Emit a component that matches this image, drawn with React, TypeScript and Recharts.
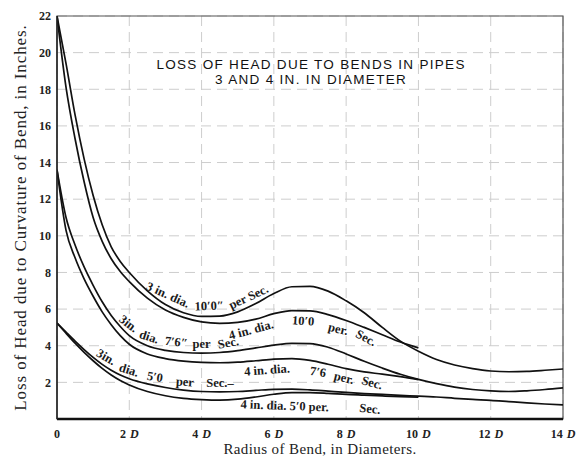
import {
  LineChart,
  Line,
  XAxis,
  YAxis,
  CartesianGrid,
  ReferenceArea,
  ReferenceDot,
} from "recharts";

const SERIF = '"Liberation Serif", "Times New Roman", serif';
const SANS = '"Liberation Sans", Arial, sans-serif';

// radius of bend, in pipe diameters
const RADIUS = [
  0, 0.25, 0.5, 0.75, 1, 1.25, 1.5, 1.75, 2, 2.5, 3, 3.5, 4, 4.5, 5, 5.5, 6,
  6.5, 7, 7.5, 8, 8.5, 9, 9.5, 10, 10.5, 11, 11.5, 12, 12.5, 13, 13.5, 14,
];
// the 4 in. curves stop at 10 D
const RADIUS_4IN = RADIUS.filter((r) => r <= 10);

// loss of head, inches
const LOSS_3IN_10_0 = [
  22.0, 19.4, 16.6, 14.2, 12.2, 10.6, 9.4, 8.6, 8.0, 7.0, 6.25, 5.8, 5.6, 5.62,
  5.85, 6.3, 6.85, 7.22, 7.24, 6.98, 6.45, 5.8, 5.0, 4.25, 3.7, 3.25, 2.95,
  2.75, 2.62, 2.58, 2.6, 2.66, 2.73,
];
const LOSS_4IN_10_0 = [
  22.0, 18.1, 15.3, 12.95, 11.0, 9.7, 8.75, 8.05, 7.5, 6.6, 5.95, 5.55, 5.3,
  5.22, 5.27, 5.45, 5.75, 5.92, 5.9, 5.7, 5.38, 5.0, 4.6, 4.2, 3.88,
];
const LOSS_3IN_7_6 = [
  13.6, 11.0, 9.5, 8.3, 7.3, 6.4, 5.65, 5.05, 4.55, 4.0, 3.75, 3.63, 3.6, 3.63,
  3.73, 3.88, 4.03, 4.13, 4.12, 3.92, 3.55, 3.15, 2.78, 2.44, 2.16, 1.93, 1.74,
  1.61, 1.53, 1.5, 1.54, 1.61, 1.7,
];
const LOSS_4IN_7_6 = [
  13.6, 10.3, 8.8, 7.65, 6.7, 5.85, 5.15, 4.55, 4.08, 3.55, 3.3, 3.16, 3.09,
  3.07, 3.1, 3.18, 3.27, 3.3, 3.2, 2.99, 2.75, 2.57, 2.45, 2.31, 2.15,
];
const LOSS_3IN_5_0 = [
  5.24, 4.74, 4.25, 3.79, 3.36, 2.98, 2.66, 2.4, 2.2, 1.92, 1.72, 1.58, 1.5,
  1.48, 1.5, 1.56, 1.62, 1.63, 1.59, 1.52, 1.45, 1.39, 1.34, 1.29, 1.25, 1.2,
  1.13, 1.07, 1.02, 0.95, 0.88, 0.82, 0.77,
];
const LOSS_4IN_5_0 = [
  5.24, 4.68, 4.14, 3.64, 3.18, 2.76, 2.4, 2.1, 1.86, 1.5, 1.27, 1.13, 1.06,
  1.03, 1.08, 1.2, 1.35, 1.44, 1.44, 1.4, 1.34, 1.3, 1.26, 1.22, 1.19,
];

const X_TICKS = [0, 2, 4, 6, 8, 10, 12, 14];
const Y_TICKS = [2, 4, 6, 8, 10, 12, 14, 16, 18, 20, 22];

const TITLE = ["LOSS OF HEAD DUE TO BENDS IN PIPES", "3 AND 4 IN. IN DIAMETER"];

// curve captions, set in pieces so they bend with the lines
const CURVE_LABELS = [
  { text: "3 in. dia.", x: 3.07, y: 6.77, angle: 24 },
  { text: "10′0″", x: 4.21, y: 6.17, angle: -2 },
  { text: "per Sec.", x: 5.3, y: 6.66, angle: -25 },

  { text: "4 in. dia.", x: 5.37, y: 4.86, angle: -15 },
  { text: "10′0", x: 6.81, y: 5.35, angle: 4 },
  { text: "per.", x: 7.78, y: 4.91, angle: 14 },
  { text: "Sec.", x: 8.55, y: 4.42, angle: 28 },

  { text: "3in.", x: 1.98, y: 5.2, angle: 38 },
  { text: "dia.", x: 2.55, y: 4.48, angle: 18 },
  { text: "7′6″", x: 3.3, y: 4.2, angle: 7 },
  { text: "per", x: 4.0, y: 4.09, angle: 0 },
  { text: "Sec.", x: 4.74, y: 4.15, angle: -10 },

  { text: "4 in. dia.", x: 5.81, y: 2.67, angle: -4 },
  { text: "7′6", x: 7.22, y: 2.57, angle: 8 },
  { text: "per.", x: 7.94, y: 2.24, angle: 14 },
  { text: "Sec.", x: 8.72, y: 1.97, angle: 15 },

  { text: "3in.", x: 1.36, y: 3.38, angle: 30 },
  { text: "dia.", x: 1.99, y: 2.67, angle: 17 },
  { text: "5′0", x: 2.71, y: 2.29, angle: 9 },
  { text: "per", x: 3.54, y: 2.02, angle: 4 },
  { text: "Sec.–", x: 4.51, y: 1.94, angle: 0 },

  { text: "4 in. dia. 5′0 per.", x: 6.3, y: 0.72, angle: 2 },
  { text: "Sec.", x: 8.66, y: 0.55, angle: 6 },
];

const toPoints = (xs: number[], ys: number[]) =>
  xs.map((r, i) => ({ r, loss: ys[i] }));

const SERIES = [
  { name: "3 in. 10'0\"", data: toPoints(RADIUS, LOSS_3IN_10_0) },
  { name: "4 in. 10'0\"", data: toPoints(RADIUS_4IN, LOSS_4IN_10_0) },
  { name: "3 in. 7'6\"", data: toPoints(RADIUS, LOSS_3IN_7_6) },
  { name: "4 in. 7'6\"", data: toPoints(RADIUS_4IN, LOSS_4IN_7_6) },
  { name: "3 in. 5'0\"", data: toPoints(RADIUS, LOSS_3IN_5_0) },
  { name: "4 in. 5'0\"", data: toPoints(RADIUS_4IN, LOSS_4IN_5_0) },
];

function curveText(text: string, angle: number) {
  return (p: any) => (
    <text
      x={p.cx}
      y={p.cy}
      transform={`rotate(${angle} ${p.cx} ${p.cy})`}
      textAnchor="middle"
      dominantBaseline="central"
      fontFamily={SERIF}
      fontSize={12.5}
      fontWeight="bold"
      fill="#1a1a1a"
    >
      {text}
    </text>
  );
}

// one title line, centred on its dot
function titleLine(text: string) {
  return (p: any) => (
    <text
      x={p.cx}
      y={p.cy}
      textAnchor="middle"
      fontFamily={SANS}
      fontSize={13.5}
      letterSpacing={1.3}
      fill="#111"
    >
      {text}
    </text>
  );
}

function XTick({ x, y, payload }: any) {
  const v = payload.value;
  return (
    <text
      x={x}
      y={y + 11}
      textAnchor="middle"
      fontFamily={SERIF}
      fontSize={12}
      fontWeight="bold"
      fill="#222"
    >
      {v}
      {v !== 0 && (
        <tspan fontStyle="italic" dx={4}>
          D
        </tspan>
      )}
    </text>
  );
}

function YTitle({ viewBox }: any) {
  const cx = viewBox.x + 20;
  const cy = viewBox.y + viewBox.height / 2;
  return (
    <text
      x={cx}
      y={cy}
      transform={`rotate(-90 ${cx} ${cy})`}
      textAnchor="middle"
      dominantBaseline="central"
      fontFamily={SERIF}
      fontSize={17}
      letterSpacing={0.9}
      fill="#222"
    >
      Loss of Head due to Curvature of Bend, in Inches.
    </text>
  );
}

function XTitle({ viewBox }: any) {
  return (
    <text
      x={viewBox.x + viewBox.width / 2 + 10}
      y={viewBox.y + 35}
      textAnchor="middle"
      fontFamily={SERIF}
      fontSize={15}
      letterSpacing={0.4}
      fill="#222"
    >
      Radius of Bend, in Diameters.
    </text>
  );
}

export default function App() {
  return (
    <div
      style={{
        position: "absolute",
        left: 0,
        top: 0,
        width: 576,
        height: 456,
        background: "#fff",
      }}
    >
      <LineChart
        width={576}
        height={456}
        margin={{ top: 16, right: 13, bottom: 0, left: 0 }}
      >
        <CartesianGrid
          stroke="#cdcdcd"
          strokeDasharray="10 6"
          horizontalValues={Y_TICKS}
          verticalValues={X_TICKS}
        />
        <XAxis
          type="number"
          dataKey="r"
          domain={[0, 14]}
          ticks={X_TICKS}
          allowDataOverflow
          height={37}
          tickLine={false}
          axisLine={{ stroke: "#111", strokeWidth: 2.5 }}
          tick={<XTick />}
          label={{ content: <XTitle /> }}
        />
        <YAxis
          type="number"
          domain={[0, 22]}
          ticks={Y_TICKS}
          allowDataOverflow
          width={57}
          tickLine={false}
          tickSize={4}
          axisLine={{ stroke: "#222", strokeWidth: 1.5 }}
          tick={{
            fontFamily: SERIF,
            fontSize: 12,
            fontWeight: "bold",
            fill: "#222",
          }}
          label={{ content: <YTitle /> }}
        />
        <ReferenceArea
          x1={0}
          x2={14}
          y1={0}
          y2={22}
          fill="none"
          stroke="#555"
          strokeWidth={1.2}
        />
        {SERIES.map((s) => (
          <Line
            key={s.name}
            name={s.name}
            data={s.data}
            dataKey="loss"
            type="monotone"
            stroke="#111"
            strokeWidth={1.7}
            dot={false}
            activeDot={false}
            isAnimationActive={false}
          />
        ))}
        {CURVE_LABELS.map((l, i) => (
          <ReferenceDot
            key={i}
            x={l.x}
            y={l.y}
            r={1}
            shape={curveText(l.text, l.angle)}
          />
        ))}
        <ReferenceDot x={7.03} y={19.12} r={1} shape={titleLine(TITLE[0])} />
        <ReferenceDot x={7.03} y={18.3} r={1} shape={titleLine(TITLE[1])} />
      </LineChart>
    </div>
  );
}
